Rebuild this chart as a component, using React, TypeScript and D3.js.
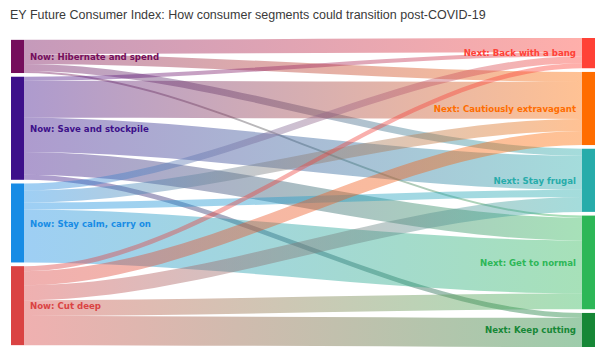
import * as d3 from "d3";

const sources = [
  "Now: Hibernate and spend",
  "Now: Save and stockpile",
  "Now: Stay calm, carry on",
  "Now: Cut deep",
];
const sourceColors = ["#750E5C", "#3D108A", "#188CE5", "#DA4343"];

const targets = [
  "Next: Back with a bang",
  "Next: Cautiously extravagant",
  "Next: Stay frugal",
  "Next: Get to normal",
  "Next: Keep cutting",
];
const targetColors = ["#FF4136", "#FF6D00", "#27ACAA", "#2DB757", "#168736"];

// share of consumers (%) moving from each "now" segment to each "next" segment,
// in the order of `targets`
const fromHibernate = [4.8, 3.4, 2.4, 0.7, 0];
const fromSave = [1.4, 12.6, 11.6, 7.8, 1.7];
const fromCalm = [2.4, 4.1, 2.4, 18.0, 0];
const fromCut = [1.7, 4.8, 5.1, 5.4, 9.9];

const flows = [fromHibernate, fromSave, fromCalm, fromCut];

const title =
  "EY Future Consumer Index: How consumer segments could transition post-COVID-19";

type Node = { name: string; color: string; y0: number; y1: number };
type Link = { s: number; t: number; sy: number; ty: number; h: number };

export default function App() {
  const width = 600;
  const height = 352;
  const top = 38;
  const bottom = 347;
  const padding = 3.7;
  const nodeW = 13;
  const leftX = 11;
  const rightX = 582;

  const sourceTotals = flows.map((row) => d3.sum(row));
  const targetTotals = targets.map((_, j) => d3.sum(flows, (row) => row[j]));
  const total = d3.sum(sourceTotals);

  const maxNodes = Math.max(sources.length, targets.length);
  const k = d3
    .scaleLinear()
    .domain([0, total])
    .range([0, bottom - top - (maxNodes - 1) * padding]);

  // stack nodes of one column, centred in the plot height
  const layoutColumn = (names: string[], colors: string[], totals: number[]) => {
    const colH = k(d3.sum(totals)) + (names.length - 1) * padding;
    let y = top + (bottom - top - colH) / 2;
    return names.map((name, i) => {
      const n: Node = { name, color: colors[i], y0: y, y1: y + k(totals[i]) };
      y = n.y1 + padding;
      return n;
    });
  };

  const left = layoutColumn(sources, sourceColors, sourceTotals);
  const right = layoutColumn(targets, targetColors, targetTotals);

  const targetOffset = right.map((n) => n.y0);
  const links: Link[] = [];
  flows.forEach((row, i) => {
    let sy = left[i].y0;
    row.forEach((v, j) => {
      if (v <= 0) return;
      const h = k(v);
      links.push({ s: i, t: j, sy, ty: targetOffset[j], h });
      sy += h;
      targetOffset[j] += h;
    });
  });

  const x0 = leftX + nodeW;
  const x1 = rightX;
  const c = (x1 - x0) * 0.33;
  const linkPath = (l: Link) =>
    `M${x0},${l.sy} C${x0 + c},${l.sy} ${x1 - c},${l.ty} ${x1},${l.ty} ` +
    `L${x1},${l.ty + l.h} C${x1 - c},${l.ty + l.h} ${x0 + c},${l.sy + l.h} ${x0},${l.sy + l.h} Z`;

  return (
    <svg
      width={width}
      height={height}
      style={{ position: "absolute", left: 0, top: 0, background: "#fff" }}
    >
      <defs>
        {links.map((l, i) => (
          <linearGradient
            key={i}
            id={`grad-${i}`}
            gradientUnits="userSpaceOnUse"
            x1={x0}
            x2={x1}
            y1={0}
            y2={0}
          >
            <stop offset="0%" stopColor={sourceColors[l.s]} />
            <stop offset="100%" stopColor={targetColors[l.t]} />
          </linearGradient>
        ))}
      </defs>

      <text
        x={10}
        y={19}
        fontFamily="Liberation Sans, Arial, sans-serif"
        fontSize={12.5}
        fill="#3a3a3a"
      >
        {title}
      </text>

      {/* links */}
      <g>
        {links.map((l, i) => (
          <path key={i} d={linkPath(l)} fill={`url(#grad-${i})`} fillOpacity={0.42} />
        ))}
      </g>

      {/* nodes */}
      <g>
        {left.map((n, i) => (
          <rect key={i} x={leftX} y={n.y0} width={nodeW} height={n.y1 - n.y0} fill={n.color} />
        ))}
        {right.map((n, i) => (
          <rect key={i} x={rightX} y={n.y0} width={nodeW} height={n.y1 - n.y0} fill={n.color} />
        ))}
      </g>

      {/* labels */}
      <g fontFamily="DejaVu Sans, sans-serif" fontSize={8.6} fontWeight="bold">
        {left.map((n, i) => (
          <text key={i} x={x0 + 6} y={(n.y0 + n.y1) / 2} dy="0.42em" fill={n.color}>
            {n.name}
          </text>
        ))}
        {right.map((n, i) => (
          <text
            key={i}
            x={rightX - 6}
            y={(n.y0 + n.y1) / 2}
            dy="0.38em"
            textAnchor="end"
            fill={n.color}
          >
            {n.name}
          </text>
        ))}
      </g>
    </svg>
  );
}
